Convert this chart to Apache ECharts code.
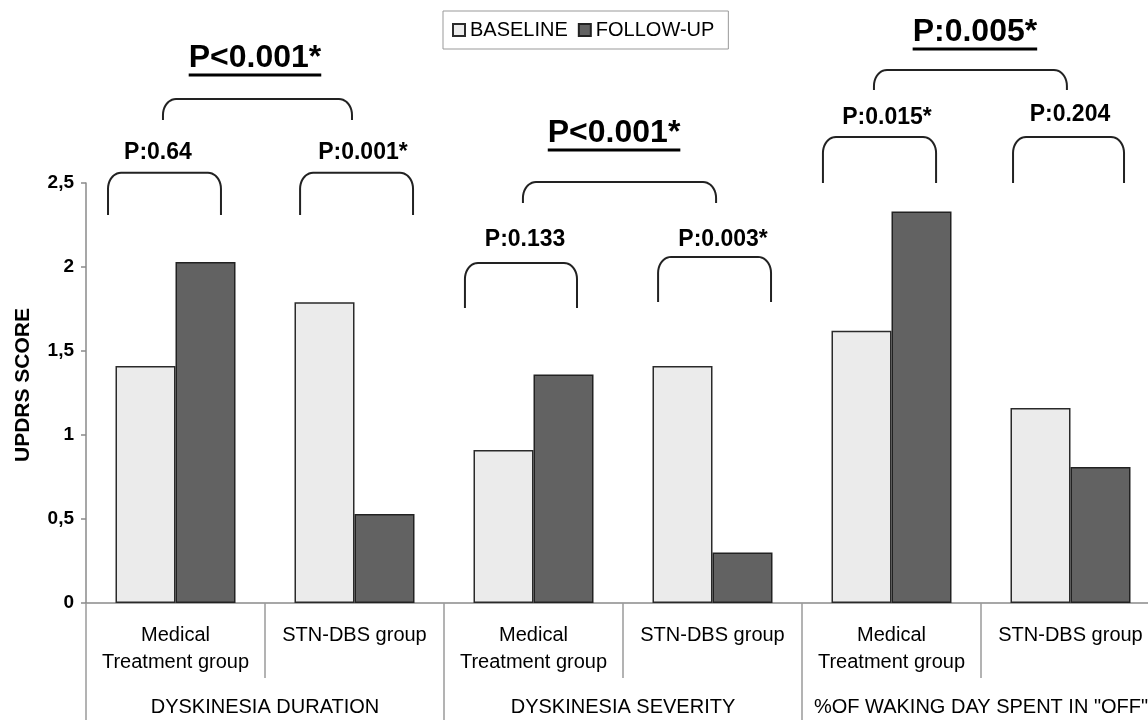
<!DOCTYPE html>
<html><head><meta charset="utf-8">
<script src="https://cdn.jsdelivr.net/npm/echarts@6/dist/echarts.min.js"></script>
<style>html,body{margin:0;padding:0;background:#fff}#c{width:1148px;height:720px}</style>
</head><body><div id="c"></div>
<script>
// ---- data ----
const categories = ['Medical\nTreatment group', 'STN-DBS group', 'Medical\nTreatment group', 'STN-DBS group', 'Medical\nTreatment group', 'STN-DBS group'];
const groups = ['DYSKINESIA DURATION', 'DYSKINESIA SEVERITY', '%OF WAKING DAY SPENT IN "OFF"'];
const baseline = [1.41, 1.79, 0.91, 1.41, 1.62, 1.16];
const followUp = [2.03, 0.53, 1.36, 0.30, 2.33, 0.81];
const yTickValues = [0, 0.5, 1, 1.5, 2, 2.5];
const pairLabels = ['P:0.64', 'P:0.001*', 'P:0.133', 'P:0.003*', 'P:0.015*', 'P:0.204'];
const groupLabels = ['P<0.001*', 'P<0.001*', 'P:0.005*'];

// ---- annotation layout (x in category units, category i spans [i, i+1]; y in score units) ----
const pairBracketSpans = [[0.123, 0.754], [1.196, 1.827], [2.117, 2.743], [3.196, 3.827], [4.117, 4.749], [5.179, 5.799]];
const pairBracketLevels = [[2.561, 2.310], [2.561, 2.310], [2.024, 1.756], [2.060, 1.792], [2.774, 2.5], [2.774, 2.5]];
const pairLabelAnchors = [[0.402, 2.679], [1.547, 2.679], [2.453, 2.161], [3.559, 2.161], [4.475, 2.887], [5.497, 2.905]];
const groupBracketSpans = [[0.430, 1.486], [2.441, 3.520], [4.402, 5.480]];
const groupBracketLevels = [[3.0, 2.875], [2.506, 2.381], [3.173, 3.054]];
const groupLabelAnchors = [[0.944, 3.244], [2.950, 2.798], [4.966, 3.399]];

const chart = echarts.init(document.getElementById('c'), null, {renderer: 'canvas'});
const FONT = 'Liberation Sans, Arial, sans-serif';

chart.setOption({
  animation: false,
  backgroundColor: '#fff',
  textStyle: {fontFamily: FONT},
  legend: {
    data: ['BASELINE', 'FOLLOW-UP'],
    left: 443, top: 11,
    icon: 'rect', itemWidth: 12, itemHeight: 12, itemGap: 10,
    padding: [9, 14, 9, 9],
    borderColor: '#999', borderWidth: 1,
    textStyle: {fontSize: 20, color: '#000', fontFamily: FONT}
  },
  grid: {left: 86, right: -12, top: 183, bottom: 117, containLabel: false, outerBoundsMode: 'none'},
  xAxis: [{
    type: 'category', data: categories, position: 'bottom',
    axisLine: {show: true, lineStyle: {color: '#8a8a8a', width: 1.5}},
    axisTick: {show: true, interval: 0, length: 75, lineStyle: {color: '#9a9a9a', width: 1.5}},
    axisLabel: {interval: 0, margin: 19, fontSize: 20, lineHeight: 27, color: '#000', fontFamily: FONT, align: 'center'}
  }, {
    type: 'category', data: groups, position: 'bottom',
    axisLine: {show: false},
    axisTick: {show: true, interval: 0, length: 120, lineStyle: {color: '#9a9a9a', width: 1.5}},
    axisLabel: {interval: 0, margin: 91, fontSize: 20, lineHeight: 27, color: '#000', fontFamily: FONT}
  }],
  yAxis: {
    type: 'value', min: 0, max: 2.5, interval: 0.5,
    name: 'UPDRS SCORE', nameLocation: 'middle', nameGap: 52, nameRotate: 90,
    nameTextStyle: {fontSize: 21, fontWeight: 'bold', color: '#000', fontFamily: FONT, padding: [0, 0, 0, 16]},
    axisLine: {show: true, lineStyle: {color: '#8a8a8a', width: 1.5}},
    axisTick: {show: true, length: 5, lineStyle: {color: '#8a8a8a', width: 1.5}},
    splitLine: {show: false},
    axisLabel: {
      margin: 12, fontSize: 19, fontWeight: 'bold', color: '#000', fontFamily: FONT,
      formatter: v => yTickValues.includes(v) ? String(v).replace('.', ',') : ''
    }
  },
  series: [{
    name: 'BASELINE', type: 'bar', data: baseline, barWidth: 60, barGap: '0%',
    itemStyle: {color: '#ebebeb', borderColor: '#2a2a2a', borderWidth: 1.5}
  }, {
    name: 'FOLLOW-UP', type: 'bar', data: followUp, barWidth: 60, barGap: '0%',
    itemStyle: {color: '#626262', borderColor: '#222', borderWidth: 1.5}
  }]
});

// ---- annotations positioned through the chart's own scales ----
const c0 = chart.convertToPixel({xAxisIndex: 0}, 0);
const c1 = chart.convertToPixel({xAxisIndex: 0}, 1);
const step = c1 - c0;
const xPx = u => c0 + (u - 0.5) * step;
const yPx = v => chart.convertToPixel({yAxisIndex: 0}, v);

function bracketPoints(x0, x1, yTop, yBot) {
  const rx = 13, ry = Math.min(16, (yBot - yTop) * 0.8);
  const pts = [[x0, yBot]];
  const n = 10;
  for (let i = 0; i <= n; i++) {
    const a = Math.PI - (i / n) * (Math.PI / 2);
    pts.push([x0 + rx + rx * Math.cos(a), yTop + ry - ry * Math.sin(a)]);
  }
  for (let i = 0; i <= n; i++) {
    const a = Math.PI / 2 - (i / n) * (Math.PI / 2);
    pts.push([x1 - rx + rx * Math.cos(a), yTop + ry - ry * Math.sin(a)]);
  }
  pts.push([x1, yBot]);
  return pts;
}

const measureCtx = document.createElement('canvas').getContext('2d');
function textWidth(t, font) { measureCtx.font = font; return measureCtx.measureText(t).width; }

const graphics = [];
pairBracketSpans.forEach((s, i) => {
  graphics.push({type: 'polyline', silent: true,
    shape: {points: bracketPoints(xPx(s[0]), xPx(s[1]), yPx(pairBracketLevels[i][0]), yPx(pairBracketLevels[i][1]))},
    style: {stroke: '#222', lineWidth: 2, fill: null}});
  graphics.push({type: 'text', silent: true, x: xPx(pairLabelAnchors[i][0]), y: yPx(pairLabelAnchors[i][1]),
    style: {text: pairLabels[i], font: 'bold 23px ' + FONT, fill: '#000', textAlign: 'center', textVerticalAlign: 'middle'}});
});
groupBracketSpans.forEach((s, i) => {
  graphics.push({type: 'polyline', silent: true,
    shape: {points: bracketPoints(xPx(s[0]), xPx(s[1]), yPx(groupBracketLevels[i][0]), yPx(groupBracketLevels[i][1]))},
    style: {stroke: '#222', lineWidth: 2, fill: null}});
  const tx = xPx(groupLabelAnchors[i][0]), ty = yPx(groupLabelAnchors[i][1]);
  const f = 'bold 32px ' + FONT;
  const w = textWidth(groupLabels[i], f);
  graphics.push({type: 'text', silent: true, x: tx, y: ty,
    style: {text: groupLabels[i], font: f, fill: '#000', textAlign: 'center', textVerticalAlign: 'middle'}});
  graphics.push({type: 'line', silent: true,
    shape: {x1: tx - w / 2, y1: ty + 17, x2: tx + w / 2, y2: ty + 17},
    style: {stroke: '#000', lineWidth: 3}});
});
chart.setOption({graphic: graphics});
</script>
</body></html>
